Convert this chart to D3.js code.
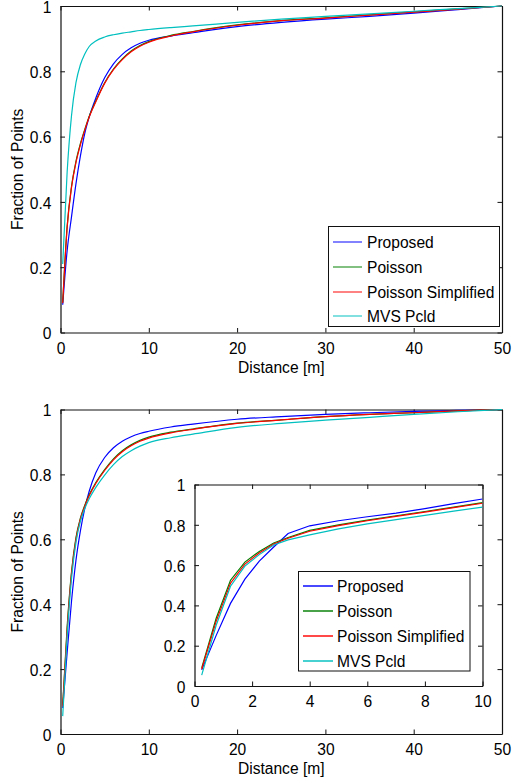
<!DOCTYPE html>
<html>
<head>
<meta charset="utf-8">
<script src="https://cdn.jsdelivr.net/npm/d3@7"></script>
<style>
  body { margin: 0; background: #fff; }
  svg { display: block; font-family: "Liberation Sans", Arial, sans-serif; }
</style>
</head>
<body>
<svg id="chart" width="512" height="783"></svg>
<script>
// ## data (distance in m, cumulative fraction of points)
var series_names = ["Proposed", "Poisson", "Poisson Simplified", "MVS Pcld"];
var series_colors = ["#0000ff", "#008000", "#ff0000", "#00bfbf"];

var dist = [0.25, 0.75, 1.25, 1.75, 2.25, 2.75, 3.25, 4, 5, 6, 7, 8, 9, 10, 12.5, 15, 20, 25, 30, 35, 40, 45, 50];

// top plot
var top_proposed = [0.085, 0.25, 0.355, 0.455, 0.54, 0.61, 0.66, 0.718, 0.78, 0.823, 0.852, 0.872, 0.886, 0.895, 0.908, 0.918, 0.937, 0.95, 0.96, 0.968, 0.978, 0.989, 1.0];
var top_poisson  = [0.092, 0.325, 0.448, 0.524, 0.578, 0.622, 0.662, 0.709, 0.765, 0.807, 0.838, 0.862, 0.879, 0.891, 0.91, 0.922, 0.942, 0.955, 0.964, 0.973, 0.982, 0.991, 1.0];
var top_simpl    = [0.09, 0.32, 0.445, 0.52, 0.575, 0.62, 0.66, 0.707, 0.763, 0.805, 0.836, 0.86, 0.877, 0.889, 0.908, 0.921, 0.941, 0.955, 0.963, 0.972, 0.981, 0.99, 1.0];
var top_mvs      = [0.21, 0.49, 0.665, 0.765, 0.82, 0.853, 0.876, 0.893, 0.905, 0.912, 0.917, 0.921, 0.925, 0.928, 0.934, 0.939, 0.95, 0.96, 0.968, 0.976, 0.984, 0.992, 1.0];

// bottom plot
var bot_proposed = [0.08, 0.25, 0.41, 0.535, 0.625, 0.695, 0.748, 0.805, 0.852, 0.882, 0.902, 0.916, 0.926, 0.933, 0.946, 0.955, 0.97, 0.978, 0.985, 0.99, 0.994, 0.997, 1.0];
var bot_poisson  = [0.09, 0.33, 0.50, 0.605, 0.665, 0.705, 0.737, 0.775, 0.815, 0.848, 0.873, 0.891, 0.905, 0.915, 0.93, 0.94, 0.958, 0.968, 0.978, 0.985, 0.99, 0.996, 1.0];
var bot_simpl    = [0.085, 0.32, 0.495, 0.60, 0.662, 0.702, 0.734, 0.772, 0.812, 0.845, 0.87, 0.888, 0.902, 0.912, 0.928, 0.939, 0.957, 0.968, 0.978, 0.985, 0.99, 0.996, 1.0];
var bot_mvs      = [0.055, 0.30, 0.48, 0.59, 0.655, 0.695, 0.725, 0.76, 0.798, 0.83, 0.855, 0.873, 0.887, 0.898, 0.913, 0.924, 0.945, 0.957, 0.967, 0.976, 0.985, 0.993, 1.0];

// inset (zoom on 0-10 m)
var inset_dist = [0.25, 0.75, 1.25, 1.75, 2.25, 2.75, 3.25, 4, 5, 6, 7, 8, 9, 10];
var ins_proposed = [0.08, 0.25, 0.41, 0.53, 0.62, 0.69, 0.757, 0.795, 0.82, 0.84, 0.858, 0.88, 0.905, 0.928];
var ins_poisson  = [0.09, 0.335, 0.525, 0.615, 0.668, 0.71, 0.737, 0.772, 0.80, 0.823, 0.845, 0.866, 0.888, 0.91];
var ins_simpl    = [0.083, 0.32, 0.51, 0.605, 0.66, 0.705, 0.733, 0.768, 0.796, 0.82, 0.842, 0.863, 0.885, 0.907];
var ins_mvs      = [0.054, 0.30, 0.495, 0.595, 0.652, 0.70, 0.725, 0.75, 0.78, 0.805, 0.826, 0.847, 0.868, 0.888];

var x_ticks = [0, 10, 20, 30, 40, 50];
var y_ticks = [0, 0.2, 0.4, 0.6, 0.8, 1];
var inset_x_ticks = [0, 2, 4, 6, 8, 10];

var svg = d3.select("#chart");
var fontSize = 15.6;

//## draw one matlab-like axes box
function makeAxes(box, xDomain, xTicks, clipId) {
    var x = d3.scaleLinear().domain(xDomain).range([box.left, box.right]);
    var y = d3.scaleLinear().domain([0, 1]).range([box.bottom, box.top]);
    var g = svg.append("g");

    g.append("rect")
        .attr("x", box.left).attr("y", box.top)
        .attr("width", box.right - box.left).attr("height", box.bottom - box.top)
        .attr("fill", "#fff");

    g.append("clipPath").attr("id", clipId)
        .append("rect")
        .attr("x", box.left).attr("y", box.top - 1)
        .attr("width", box.right - box.left).attr("height", box.bottom - box.top + 2);

    var axB = g.append("g").attr("transform", "translate(0," + box.bottom + ")")
        .call(d3.axisBottom(x).tickValues(xTicks).tickSizeInner(-4.5).tickSizeOuter(0).tickPadding(10).tickFormat(d3.format("")));
    var axT = g.append("g").attr("transform", "translate(0," + box.top + ")")
        .call(d3.axisTop(x).tickValues(xTicks).tickSizeInner(-4.5).tickSizeOuter(0).tickFormat(""));
    var axL = g.append("g").attr("transform", "translate(" + box.left + ",0)")
        .call(d3.axisLeft(y).tickValues(y_ticks).tickSizeInner(-4.5).tickSizeOuter(0).tickPadding(9).tickFormat(d3.format("")));
    var axR = g.append("g").attr("transform", "translate(" + box.right + ",0)")
        .call(d3.axisRight(y).tickValues(y_ticks).tickSizeInner(-4.5).tickSizeOuter(0).tickFormat(""));

    [axB, axT, axL, axR].forEach(function (a) {
        a.selectAll(".domain").attr("stroke", "#111").attr("stroke-width", 1.2);
        a.selectAll(".tick line").attr("stroke", "#111");
        a.selectAll("text").attr("font-size", fontSize).attr("fill", "#000")
            .attr("font-family", "Liberation Sans, Arial, sans-serif");
    });
    axB.selectAll("text").attr("dy", "0.72em");
    axL.selectAll("text").attr("dy", "0.4em");

    return {g: g, x: x, y: y, clip: clipId};
}

function drawLines(ax, xs, seriesList, curve) {
    var line = d3.line()
        .curve(curve)
        .x(function (d) { return ax.x(d[0]); })
        .y(function (d) { return ax.y(d[1]); });
    seriesList.forEach(function (vals, i) {
        ax.g.append("path")
            .datum(xs.map(function (d, k) { return [d, vals[k]]; }))
            .attr("clip-path", "url(#" + ax.clip + ")")
            .attr("fill", "none")
            .attr("stroke", series_colors[i])
            .attr("stroke-width", 1.2)
            .attr("d", line);
    });
}

function drawLegend(g, lx, ly, lw, lh, rowY, lineX0, lineX1, textX, lineOpacity) {
    var leg = g.append("g");
    leg.append("rect")
        .attr("x", lx).attr("y", ly).attr("width", lw).attr("height", lh)
        .attr("fill", "#fff").attr("stroke", "#111").attr("stroke-width", 1);
    var rows = leg.selectAll(".legend")
        .data(series_names)
        .enter().append("g")
        .attr("class", "legend")
        .attr("transform", function (d, i) { return "translate(0," + rowY[i] + ")"; });
    rows.append("line")
        .attr("x1", lineX0).attr("x2", lineX1)
        .attr("stroke", function (d, i) { return series_colors[i]; })
        .attr("stroke-opacity", lineOpacity)
        .attr("stroke-width", 1.8);
    rows.append("text")
        .attr("x", textX).attr("dy", "0.36em")
        .attr("font-size", fontSize)
        .text(function (d) { return d; });
}

function axisLabels(box) {
    svg.append("text")
        .attr("x", (box.left + box.right) / 2).attr("y", box.bottom + 40)
        .attr("text-anchor", "middle").attr("font-size", fontSize)
        .text("Distance [m]");
    svg.append("text")
        .attr("transform", "translate(23," + ((box.top + box.bottom) / 2) + ") rotate(-90)")
        .attr("text-anchor", "middle").attr("font-size", fontSize)
        .text("Fraction of Points");
}

//## top plot
var topBox = {left: 60.5, right: 502, top: 6, bottom: 332.5};
var axTop = makeAxes(topBox, [0, 50], x_ticks, "clipTop");
drawLines(axTop, dist, [top_proposed, top_poisson, top_simpl, top_mvs], d3.curveMonotoneX);
drawLegend(axTop.g, 328.5, 226.5, 171, 100, [242, 267, 292, 316], 333, 362, 367, 0.55);
axisLabels(topBox);

//## bottom plot
var botBox = {left: 60.5, right: 502, top: 409.5, bottom: 734};
var axBot = makeAxes(botBox, [0, 50], x_ticks, "clipBot");
drawLines(axBot, dist, [bot_proposed, bot_poisson, bot_simpl, bot_mvs], d3.curveMonotoneX);
axisLabels(botBox);

//## inset
var insBox = {left: 194.5, right: 482.5, top: 484.5, bottom: 686};
var axIns = makeAxes(insBox, [0, 10], inset_x_ticks, "clipIns");
drawLines(axIns, inset_dist, [ins_proposed, ins_poisson, ins_simpl, ins_mvs], d3.curveLinear);
drawLegend(axIns.g, 298.5, 571.5, 171.5, 99.5, [586, 611, 636, 661], 303, 333, 337, 0.8);
</script>
</body>
</html>
